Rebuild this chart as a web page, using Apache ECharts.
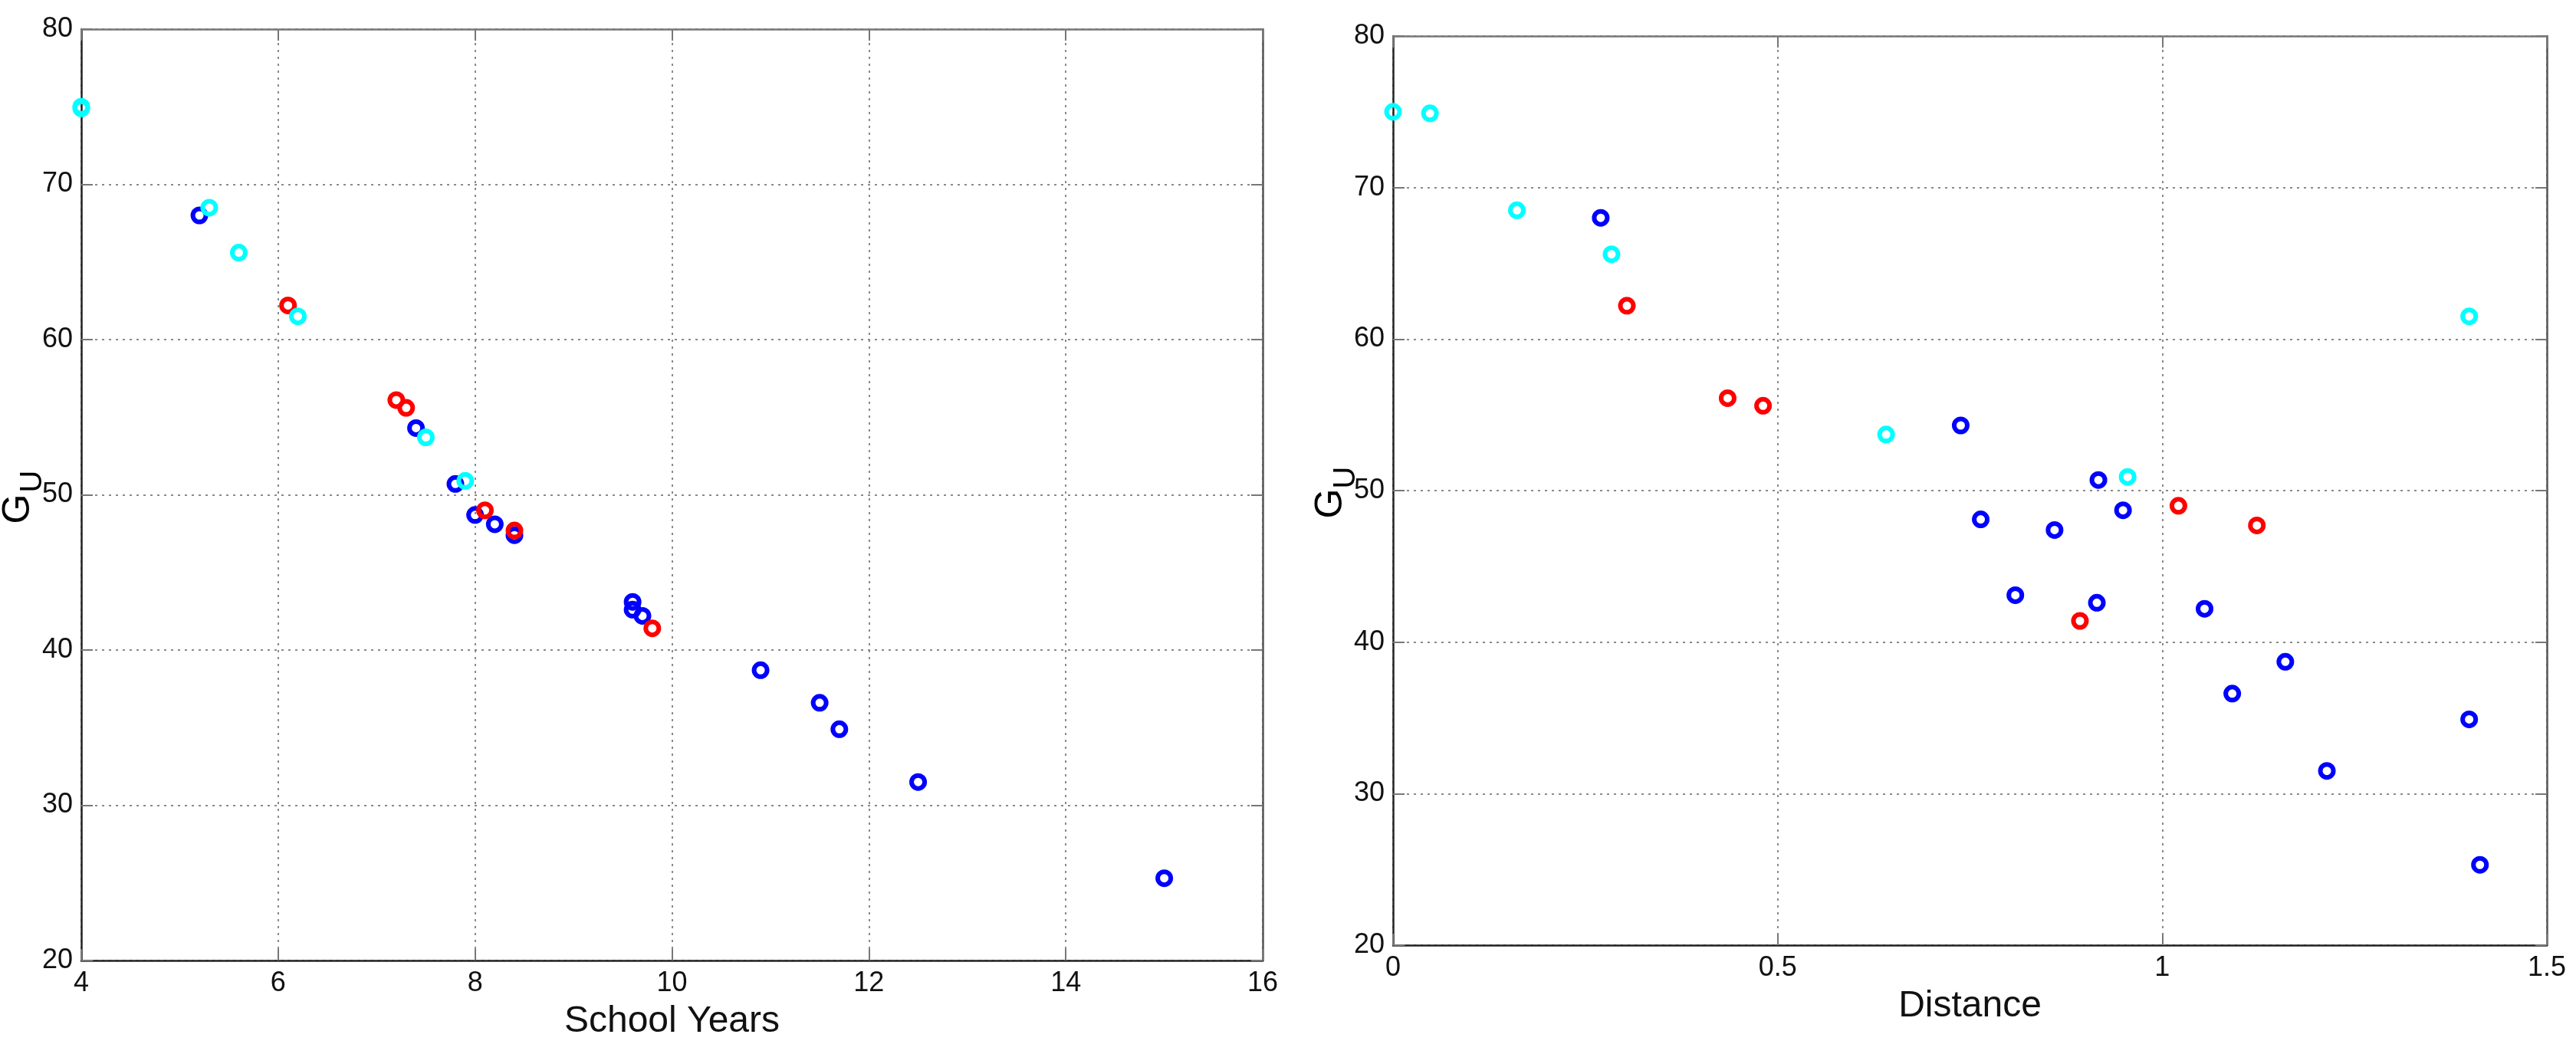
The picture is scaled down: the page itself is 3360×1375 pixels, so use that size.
<!DOCTYPE html>
<html>
<head>
<meta charset="utf-8">
<script src="https://cdn.jsdelivr.net/npm/echarts@6/dist/echarts.min.js"></script>
<style>
html,body{margin:0;padding:0;background:#fff;}
#c{width:3360px;height:1375px;}
</style>
</head>
<body>
<div id="c"></div>
<script>
// ---- data ----
var blueYears = [5.2, 7.4, 7.8, 8.0, 8.2, 8.4, 9.6, 9.6, 9.7, 10.9, 11.5, 11.7, 12.5, 15.0];
var blueDist  = [0.270, 0.738, 0.917, 0.949, 0.764, 0.860, 0.809, 0.915, 1.055, 1.160, 1.091, 1.399, 1.214, 1.413];
var blueG     = [68.0, 54.3, 50.7, 48.7, 48.1, 47.4, 43.1, 42.6, 42.2, 38.7, 36.6, 34.9, 31.5, 25.3];

var redYears = [6.1, 7.2, 7.3, 8.1, 8.4, 9.8];
var redDist  = [0.304, 0.435, 0.481, 1.021, 1.123, 0.893];
var redG     = [62.2, 56.1, 55.6, 49.0, 47.7, 41.4];

var cyanYears = [4.0, 4.0, 5.3, 5.6, 6.2, 7.5, 7.9];
var cyanDist  = [0.000, 0.048, 0.161, 0.284, 1.399, 0.641, 0.955];
var cyanG     = [75.0, 74.9, 68.5, 65.6, 61.5, 53.7, 50.9];

var yearTicks = {min: 4, max: 16, interval: 2};
var distTicks = {min: 0, max: 1.5, interval: 0.5};
var gTicks    = {min: 20, max: 80, interval: 10};

// ---- helpers ----
function zip(xs, ys){ return xs.map(function(x,i){ return [x, ys[i]]; }); }
var FONT = '"Liberation Sans", Arial, Helvetica, sans-serif';

function mainX(gridIndex, t, name){
  return {
    type:'value', gridIndex:gridIndex, position:'bottom',
    min:t.min, max:t.max, interval:t.interval,
    axisLine:{show:true, onZero:false, lineStyle:{color:'#222', width:2.5}},
    axisTick:{show:true, inside:true, length:15, lineStyle:{color:'#777', width:2}},
    axisLabel:{fontSize:36, color:'#111', fontFamily:FONT, margin:12},
    splitLine:{show:true, lineStyle:{color:'#8a8a8a', width:2, type:[3,6]}},
    name:name, nameLocation:'middle', nameGap:56,
    nameTextStyle:{fontSize:48, color:'#111', fontFamily:FONT}
  };
}
function topX(gridIndex, t){
  return {
    type:'value', gridIndex:gridIndex, position:'top',
    min:t.min, max:t.max, interval:t.interval,
    axisLine:{show:true, onZero:false, lineStyle:{color:'#777', width:2.5}},
    axisTick:{show:true, inside:true, length:15, lineStyle:{color:'#777', width:2}},
    axisLabel:{show:false}, splitLine:{show:false}
  };
}
function mainY(gridIndex, t){
  return {
    type:'value', gridIndex:gridIndex, position:'left',
    min:t.min, max:t.max, interval:t.interval,
    axisLine:{show:true, onZero:false, lineStyle:{color:'#222', width:2.5}},
    axisTick:{show:true, inside:true, length:15, lineStyle:{color:'#777', width:2}},
    axisLabel:{fontSize:36, color:'#111', fontFamily:FONT, margin:11},
    splitLine:{show:true, lineStyle:{color:'#8a8a8a', width:2, type:[3,6]}}
  };
}
function rightY(gridIndex, t){
  return {
    type:'value', gridIndex:gridIndex, position:'right',
    min:t.min, max:t.max, interval:t.interval,
    axisLine:{show:true, onZero:false, lineStyle:{color:'#555', width:2.5}},
    axisTick:{show:true, inside:true, length:15, lineStyle:{color:'#777', width:2}},
    axisLabel:{show:false}, splitLine:{show:false}
  };
}
function scat(data, color, xi, yi){
  return {
    type:'scatter', xAxisIndex:xi, yAxisIndex:yi, data:data,
    symbol:'circle', symbolSize:17,
    itemStyle:{color:'rgba(0,0,0,0)', borderColor:color, borderWidth:6, opacity:1},
    emphasis:{disabled:true}, silent:true, animation:false
  };
}

var BLUE='#0000ff', RED='#ff0000', CYAN='#00ffff';

var option = {
  animation:false,
  backgroundColor:'#ffffff',
  grid:[
    {left:106, top:38, width:1541, height:1215, containLabel:false},
    {left:1817, top:47, width:1505, height:1186, containLabel:false}
  ],
  xAxis:[ mainX(0, yearTicks, 'School Years'), topX(0, yearTicks),
          mainX(1, distTicks, 'Distance'), topX(1, distTicks) ],
  yAxis:[ mainY(0, gTicks), rightY(0, gTicks),
          mainY(1, gTicks), rightY(1, gTicks) ],
  series:[
    scat(zip(blueYears, blueG), BLUE, 0, 0),
    scat(zip(redYears, redG), RED, 0, 0),
    scat(zip(cyanYears, cyanG), CYAN, 0, 0),
    scat(zip(blueDist, blueG), BLUE, 2, 2),
    scat(zip(redDist, redG), RED, 2, 2),
    scat(zip(cyanDist, cyanG), CYAN, 2, 2)
  ],
  graphic:[
    {type:'text', x:24, y:664, rotation:Math.PI/2,
     style:{text:'G', fontSize:50, fontFamily:FONT, fill:'#000', align:'center', verticalAlign:'middle', textAlign:'center', textVerticalAlign:'middle'}},
    {type:'text', x:43, y:628, rotation:Math.PI/2,
     style:{text:'U', fontSize:40, fontFamily:FONT, fill:'#000', align:'center', verticalAlign:'middle', textAlign:'center', textVerticalAlign:'middle'}},
    {type:'text', x:1736, y:657, rotation:Math.PI/2,
     style:{text:'G', fontSize:50, fontFamily:FONT, fill:'#000', align:'center', verticalAlign:'middle', textAlign:'center', textVerticalAlign:'middle'}},
    {type:'text', x:1756, y:623, rotation:Math.PI/2,
     style:{text:'U', fontSize:40, fontFamily:FONT, fill:'#000', align:'center', verticalAlign:'middle', textAlign:'center', textVerticalAlign:'middle'}}
  ]
};

var chart = echarts.init(document.getElementById('c'), null, {renderer:'canvas'});
chart.setOption(option);
</script>
</body>
</html>
